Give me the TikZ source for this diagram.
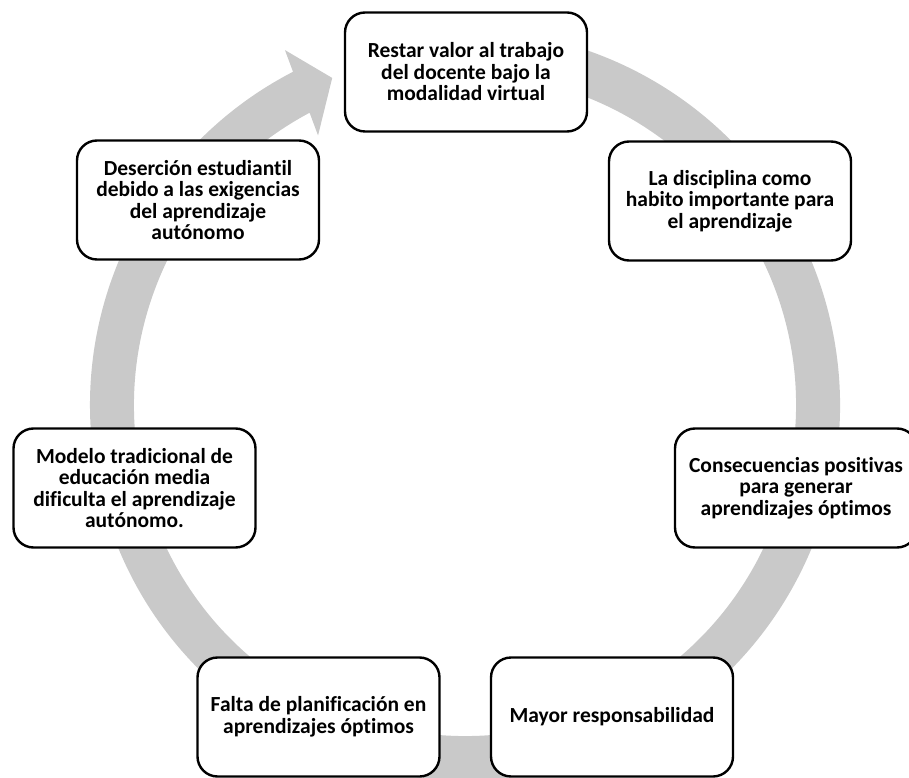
\documentclass[tikz,border=0pt]{standalone}
\usepackage{fontspec}
\setmainfont{Carlito}[Ligatures=NoCommon]
\usetikzlibrary{calc}
\definecolor{ringgray}{RGB}{201,201,201}
\tikzset{
  cbox/.style={draw=black, line width=2.4pt, fill=white, rounded corners=20pt,
    minimum width=242pt, minimum height=119pt, inner sep=0pt, align=center,
    font=\bfseries\fontsize{21.5}{21.5}\selectfont},
}
\begin{document}
\begin{tikzpicture}[x=1pt,y=1pt]
\useasboundingbox (0,0) rectangle (909,777);
\clip (0,0) rectangle (909,777);
% ring arrow (center, radii)
\coordinate (c) at (465,372);
\fill[ringgray]
  ($(c)+(100:375)$) arc[start angle=100, end angle=-242.7, radius=375]
  -- ($(c)+(116.9:398)$) -- ($(c)+(112.1:353)$) -- ($(c)+(118.6:307)$)
  -- ($(c)+(118:331)$) arc[start angle=-242, end angle=100, radius=331] -- cycle;
% boxes
\node[cbox] (b1) at (466,705) {Restar valor al trabajo\\del docente bajo la\\modalidad virtual};
\node[cbox] (b2) at (730,576) {La disciplina como\\habito importante para\\el aprendizaje};
\node[cbox] (b3) at (796,289) {Consecuencias positivas\\para generar\\aprendizajes óptimos};
\node[cbox] (b4) at (612,60) {Mayor responsabilidad};
\node[cbox] (b5) at (318.5,60) {Falta de planificación en\\aprendizajes óptimos};
\node[cbox] (b6) at (134.5,289) {Modelo tradicional de\\educación media\\dificulta el aprendizaje\\autónomo.};
\node[cbox] (b7) at (198,577) {Deserción estudiantil\\debido a las exigencias\\del aprendizaje\\autónomo};
\end{tikzpicture}
\end{document}
